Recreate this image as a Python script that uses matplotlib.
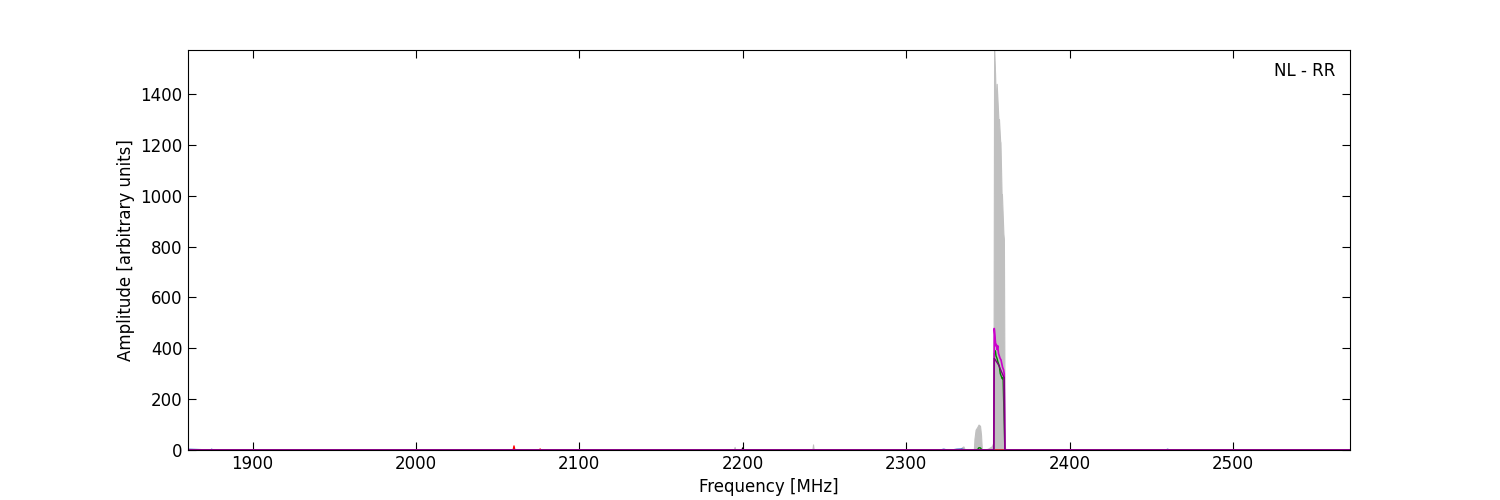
import matplotlib
matplotlib.use('Agg')
import matplotlib.pyplot as plt

# total power envelope (grey)
gray_freq = [1860, 2194.5, 2195, 2195.5, 2242.6, 2243, 2243.4, 2333, 2334, 2335, 2336,
             2341.4, 2341.8, 2342.5, 2343.5, 2344.3, 2345.2, 2345.8, 2346.3, 2350, 2352.5,
             2353.4, 2353.8, 2354.4, 2355.1, 2355.4, 2356.6, 2356.8, 2357.5, 2357.7,
             2358.4, 2358.6, 2359.5, 2359.8, 2360.3, 2361, 2572]
gray_amp = [0, 0, 12, 0, 0, 22, 0, 0, 10, 14, 0,
            0, 45, 80, 90, 100, 95, 60, 0, 5, 15,
            30, 1573, 1480, 1300, 1440, 1280, 1300, 1215, 1210,
            1000, 1005, 850, 830, 10, 0, 0]

# individual channels
magenta_freq = [1860, 2353.6, 2353.9, 2354.3, 2354.8, 2355.2, 2355.6, 2356.0, 2356.5,
                2357.0, 2357.5, 2358.0, 2358.5, 2359.0, 2359.6, 2360.0, 2360.4, 2572]
magenta_amp = [0, 0, 478, 450, 410, 415, 395, 410, 380,
               370, 360, 355, 340, 325, 315, 300, 0, 0]

purple_freq = [1860, 2353.6, 2353.9, 2354.5, 2355.5, 2356.5, 2357.5, 2358.5, 2359.5, 2360.0, 2360.4, 2572]
purple_amp = [0, 0, 360, 355, 345, 335, 320, 305, 290, 285, 0, 0]

green_freq = [1860, 2343.5, 2344.5, 2345.5, 2346.3, 2353.6, 2354.0, 2354.6, 2355.0, 2355.6,
              2356.2, 2357.0, 2357.6, 2358.2, 2358.8, 2359.3, 2360.4, 2572]
green_amp = [0, 0, 9, 8, 0, 0, 380, 390, 370, 360,
             345, 330, 300, 290, 280, 285, 0, 0]

blue_freq = [1860, 1874.5, 1875, 1875.5, 2321, 2323, 2325, 2328, 2331, 2334, 2336,
             2459, 2460, 2461, 2572]
blue_amp = [3, 0, 3, 0, 0, 3, 0, 0, 3, 4, 0,
            0, 3, 0, 0]

red_freq = [1860, 2059.5, 2060, 2060.5, 2075.5, 2076, 2076.5, 2572]
red_amp = [0, 0, 16, 0, 0, 4, 0, 0]

black_freq = [2190, 2199.5, 2200, 2200.5, 2210]
black_amp = [0, 0, 8, 0, 0]

plt.rcParams['font.size'] = 12
fig = plt.figure(figsize=(15, 5), dpi=100)
ax = fig.add_axes([0.125, 0.1, 0.775, 0.8])

ax.fill_between(gray_freq, 0, gray_amp, color='#c0c0c0', lw=0.8, edgecolor='#c0c0c0')
ax.plot(blue_freq, blue_amp, color='#3366cc', lw=1.0)
ax.plot(red_freq, red_amp, color='red', lw=1.0)
ax.plot(black_freq, black_amp, color='black', lw=1.0)
ax.plot(green_freq, green_amp, color='green', lw=1.0)
ax.plot(magenta_freq, magenta_amp, color='#cc00cc', lw=1.2)
ax.plot(purple_freq, purple_amp, color='#800080', lw=1.0)

ax.set_xlim(1860.2, 2571.6)
ax.set_ylim(0, 1573)
ax.set_xticks([1900, 2000, 2100, 2200, 2300, 2400, 2500])
ax.set_yticks([0, 200, 400, 600, 800, 1000, 1200, 1400])
ax.tick_params(direction='in', top=True, right=True, length=6)
ax.set_xlabel('Frequency [MHz]')
ax.set_ylabel('Amplitude [arbitrary units]')
ax.text(0.987, 0.97, 'NL - RR', transform=ax.transAxes, ha='right', va='top')

fig.savefig('out.png', dpi=100)
